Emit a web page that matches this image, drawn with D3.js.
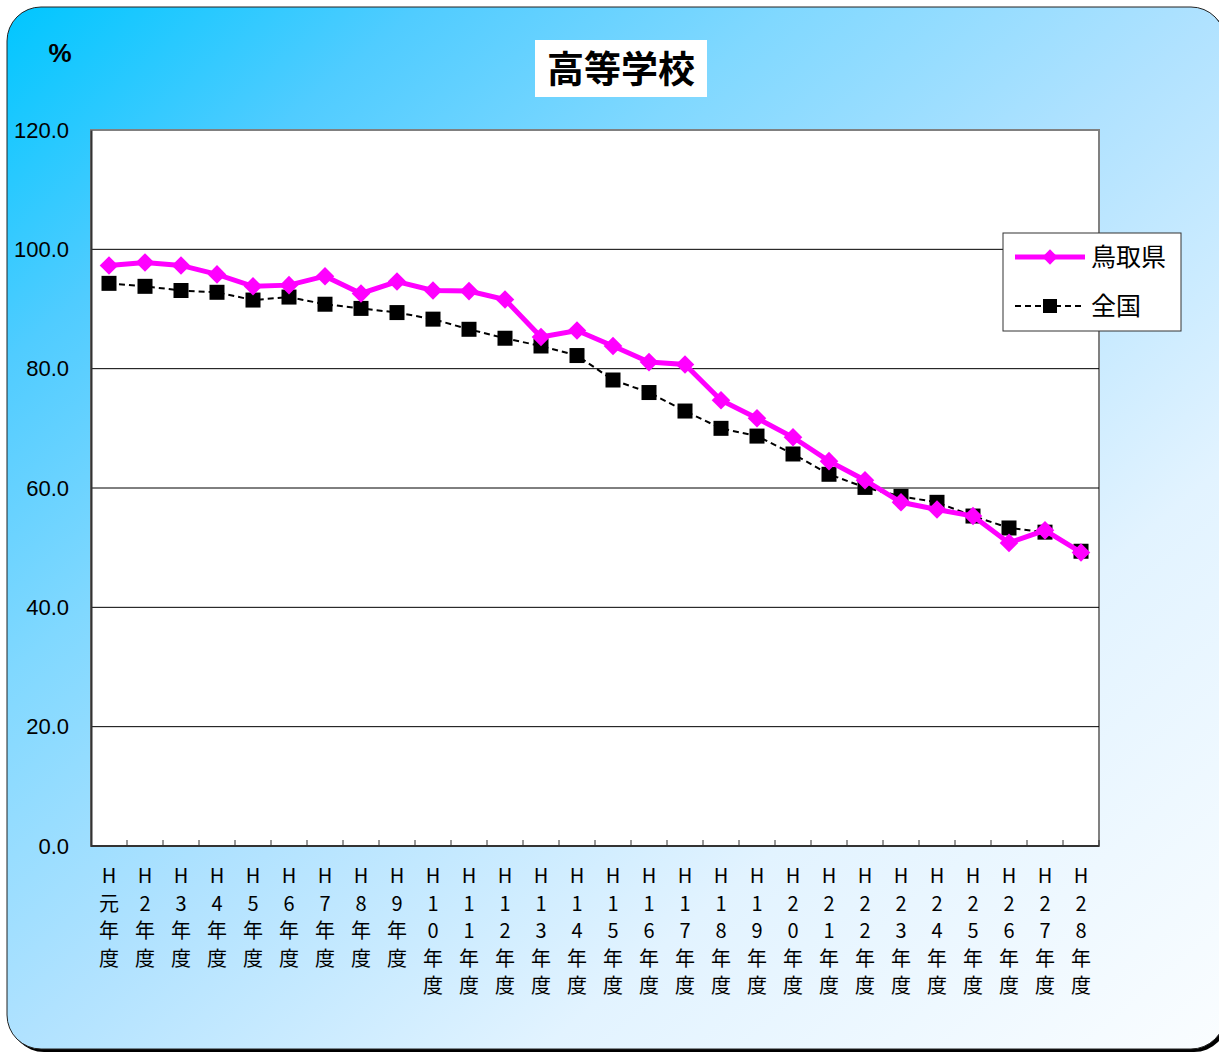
<!DOCTYPE html>
<html>
<head>
<meta charset="utf-8">
<script src="https://cdn.jsdelivr.net/npm/d3@7"></script>
<style>
  body { margin: 0; background: #fff; }
  svg { display: block; font-family: "Noto Sans CJK JP", "DejaVu Sans", sans-serif; }
</style>
</head>
<body>
<svg id="chart" width="1219" height="1053"></svg>
<script>
// Category labels (one per fiscal year)
const years = ["元", "2", "3", "4", "5", "6", "7", "8", "9", "10", "11", "12", "13", "14",
  "15", "16", "17", "18", "19", "20", "21", "22", "23", "24", "25", "26", "27", "28"];

// Tottori prefecture
const tottori = [97.3, 97.8, 97.3, 95.8, 93.8, 94.0, 95.5, 92.6, 94.6, 93.1, 93.0, 91.6, 85.3, 86.4,
  83.8, 81.1, 80.7, 74.7, 71.7, 68.5, 64.5, 61.3, 57.6, 56.4, 55.3, 50.8, 52.9, 49.2];

// National
const national = [94.3, 93.8, 93.1, 92.8, 91.5, 92.0, 90.8, 90.1, 89.4, 88.3, 86.6, 85.1, 83.8, 82.2,
  78.1, 76.0, 72.9, 70.0, 68.7, 65.7, 62.3, 60.1, 58.6, 57.6, 55.3, 53.3, 52.6, 49.4];

const yTicks = [0, 20, 40, 60, 80, 100, 120];

const svg = d3.select("#chart");
const defs = svg.append("defs");

// background gradient, top-left cyan to near white bottom-right
const grad = defs.append("linearGradient")
  .attr("id", "bg")
  .attr("x1", "0%").attr("y1", "0%")
  .attr("x2", "100%").attr("y2", "100%");
[[0, "#00c6ff"], [0.17, "#50ccff"], [0.32, "#80d8ff"], [0.5, "#b0e2ff"],
 [0.72, "#e2f3ff"], [1, "#fafdff"]].forEach(s => {
  grad.append("stop").attr("offset", s[0]).attr("stop-color", s[1]);
});

// shadow + rounded panel
svg.append("rect")
  .attr("x", 10).attr("y", 10)
  .attr("width", 1218).attr("height", 1042)
  .attr("rx", 34)
  .attr("fill", "#000");
svg.append("rect")
  .attr("x", 7).attr("y", 7)
  .attr("width", 1218).attr("height", 1042)
  .attr("rx", 34)
  .attr("fill", "url(#bg)")
  .attr("stroke", "#222")
  .attr("stroke-width", 1);

const margin = { left: 91, right: 1099, top: 130, bottom: 846 };

const x = d3.scaleBand()
  .domain(years)
  .range([margin.left, margin.right]);

const y = d3.scaleLinear()
  .domain([0, 120])
  .range([margin.bottom, margin.top]);

// plot area
svg.append("rect")
  .attr("x", margin.left).attr("y", margin.top)
  .attr("width", margin.right - margin.left)
  .attr("height", margin.bottom - margin.top)
  .attr("fill", "#fff")
  .attr("stroke", "#808080")
  .attr("stroke-width", 2);

// gridlines
svg.append("g")
  .selectAll("line")
  .data(yTicks.filter(d => d > 0 && d < 120))
  .join("line")
  .attr("x1", margin.left).attr("x2", margin.right)
  .attr("y1", d => y(d)).attr("y2", d => y(d))
  .attr("stroke", "#000")
  .attr("stroke-width", 1);

// y axis
const yAxis = svg.append("g")
  .attr("transform", `translate(${margin.left},0)`)
  .call(d3.axisLeft(y).tickValues(yTicks).tickFormat(d3.format(".1f")).tickSize(0).tickPadding(22));
yAxis.select(".domain").attr("stroke", "#333").attr("stroke-width", 2);
yAxis.selectAll("text")
  .attr("font-size", 22)
  .attr("font-family", "'Liberation Sans', Arial, sans-serif")
  .attr("fill", "#000");

// x axis ticks at band edges
const xAxis = svg.append("g")
  .attr("transform", `translate(0,${margin.bottom})`);
xAxis.append("line")
  .attr("x1", margin.left).attr("x2", margin.right)
  .attr("stroke", "#333").attr("stroke-width", 2);
xAxis.selectAll(".tk")
  .data(years)
  .join("line")
  .attr("class", "tk")
  .attr("x1", d => x(d) + x.bandwidth()).attr("x2", d => x(d) + x.bandwidth())
  .attr("y1", 0).attr("y2", -6)
  .attr("stroke", "#333");

// x labels stacked vertically
xAxis.selectAll(".lbl")
  .data(years)
  .join("text")
  .attr("class", "lbl")
  .attr("text-anchor", "middle")
  .attr("font-size", 20)
  .attr("fill", "#000")
  .each(function(d) {
    const chars = ["H", ...d.split(""), "年", "度"];
    const t = d3.select(this);
    chars.forEach((c, i) => {
      t.append("tspan")
        .attr("x", x(d) + x.bandwidth() / 2)
        .attr("y", 37 + i * 27.6)
        .text(c);
    });
  });

const line = d3.line()
  .x((d, i) => x(years[i]) + x.bandwidth() / 2)
  .y(d => y(d));

// national series
svg.append("path")
  .datum(national)
  .attr("d", line)
  .attr("fill", "none")
  .attr("stroke", "#000")
  .attr("stroke-width", 2)
  .attr("stroke-dasharray", "6,4");
svg.append("g")
  .selectAll("rect")
  .data(national)
  .join("rect")
  .attr("x", (d, i) => x(years[i]) + x.bandwidth() / 2 - 7.5)
  .attr("y", d => y(d) - 7.5)
  .attr("width", 15).attr("height", 15)
  .attr("fill", "#000");

// Tottori series
svg.append("path")
  .datum(tottori)
  .attr("d", line)
  .attr("fill", "none")
  .attr("stroke", "#ff00ff")
  .attr("stroke-width", 5);
const diamond = d3.symbol().type(d3.symbolDiamond2).size(220);
svg.append("g")
  .selectAll("path")
  .data(tottori)
  .join("path")
  .attr("d", diamond)
  .attr("transform", (d, i) => `translate(${x(years[i]) + x.bandwidth() / 2},${y(d)})`)
  .attr("fill", "#ff00ff");

// title
svg.append("rect")
  .attr("x", 535).attr("y", 40)
  .attr("width", 172).attr("height", 57)
  .attr("fill", "#fff");
svg.append("text")
  .attr("x", 621).attr("y", 83)
  .attr("text-anchor", "middle")
  .attr("font-size", 37)
  .attr("font-weight", "bold")
  .text("高等学校");

// unit label
svg.append("text")
  .attr("x", 60).attr("y", 62)
  .attr("text-anchor", "middle")
  .attr("font-size", 26)
  .attr("font-weight", "bold")
  .attr("font-family", "'Liberation Sans', Arial, sans-serif")
  .text("%");

// legend
const legend = svg.append("g");
legend.append("rect")
  .attr("x", 1003).attr("y", 233)
  .attr("width", 178).attr("height", 98)
  .attr("fill", "#fff")
  .attr("stroke", "#333");
legend.append("line")
  .attr("x1", 1015).attr("x2", 1085)
  .attr("y1", 257).attr("y2", 257)
  .attr("stroke", "#ff00ff").attr("stroke-width", 5);
legend.append("path")
  .attr("d", d3.symbol().type(d3.symbolDiamond2).size(150))
  .attr("transform", "translate(1050,257)")
  .attr("fill", "#ff00ff");
legend.append("text")
  .attr("x", 1091).attr("y", 266)
  .attr("font-size", 25)
  .text("鳥取県");
legend.append("line")
  .attr("x1", 1015).attr("x2", 1085)
  .attr("y1", 306).attr("y2", 306)
  .attr("stroke", "#000").attr("stroke-width", 2)
  .attr("stroke-dasharray", "6,4");
legend.append("rect")
  .attr("x", 1043).attr("y", 299)
  .attr("width", 14).attr("height", 14)
  .attr("fill", "#000");
legend.append("text")
  .attr("x", 1091).attr("y", 315)
  .attr("font-size", 25)
  .text("全国");
</script>
</body>
</html>
